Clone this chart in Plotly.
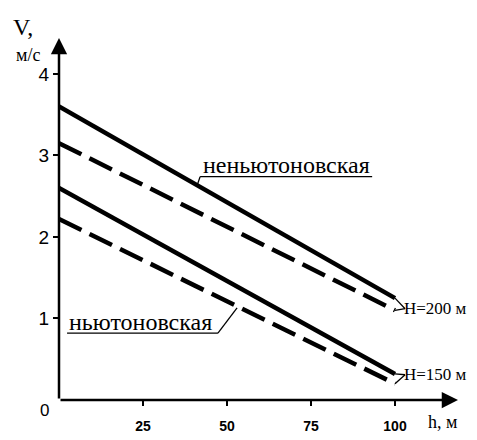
import plotly.graph_objects as go

# Data
h = [0, 100]
v_nonnewt_H200 = [3.6, 1.25]
v_newt_H200 = [3.15, 1.1]
v_nonnewt_H150 = [2.6, 0.32]
v_newt_H150 = [2.22, 0.2]
x_ticks = [25, 50, 75, 100]
y_ticks = [1, 2, 3, 4]

X_MAX = 118.75
Y_MAX = 4.44
LW = 4.5
SERIF = "Liberation Serif"
SANS = "Liberation Sans"
PAGE_OFFSET = 8  # default body margin of the html page

fig = go.Figure()
for v, dash in [(v_nonnewt_H200, "solid"), (v_newt_H200, "25px,9px"),
                (v_nonnewt_H150, "solid"), (v_newt_H150, "25px,9px")]:
    fig.add_trace(go.Scatter(x=h, y=v, mode="lines",
                             line=dict(color="black", width=LW, dash=dash),
                             showlegend=False, hoverinfo="skip"))

shapes = []
def seg(x0, y0, x1, y1, w=1.3):
    shapes.append(dict(type="line", xref="x", yref="y", x0=x0, y0=y0, x1=x1, y1=y1,
                       line=dict(color="black", width=w)))

# label underlines and leaders
seg(42.0, 2.74, 93.2, 2.74)
seg(42.0, 2.74, 41.1, 2.63)
seg(2.4, 0.82, 47.3, 0.82)
seg(47.3, 0.82, 53.0, 1.13)
# H labels leaders
seg(103.0, 1.12, h[1], v_nonnewt_H200[1])
seg(103.0, 1.12, h[1], v_newt_H200[1])
seg(103.0, 0.31, h[1], v_nonnewt_H150[1])
seg(103.0, 0.31, h[1], v_newt_H150[1])

annotations = [
    # axes with arrows
    dict(x=X_MAX, y=0, ax=0, ay=0, xref="x", yref="y", axref="x", ayref="y",
         showarrow=True, arrowhead=2, arrowsize=1.3, arrowwidth=2.5, arrowcolor="black", text=""),
    dict(x=0, y=Y_MAX, ax=0, ay=0, xref="x", yref="y", axref="x", ayref="y",
         showarrow=True, arrowhead=2, arrowsize=1.3, arrowwidth=2.5, arrowcolor="black", text=""),
    dict(x=0, y=0, xref="x", yref="y", text="0", showarrow=False, xanchor="right",
         yanchor="middle", xshift=-8, yshift=-10, font=dict(family=SANS, size=17, color="black")),
    dict(x=-0.09, y=1.03, xref="paper", yref="paper", text="V,",
         showarrow=False, xanchor="center", yanchor="middle",
         font=dict(family=SERIF, size=24, color="black")),
    dict(x=-0.078, y=0.953, xref="paper", yref="paper", text="м/с",
         showarrow=False, xanchor="center", yanchor="middle",
         font=dict(family=SERIF, size=18, color="black")),
    dict(x=0.962, y=-0.061, xref="paper", yref="paper", text="h, м",
         showarrow=False, xanchor="center", yanchor="middle",
         font=dict(family=SERIF, size=18, color="black")),
    dict(x=67.6, y=2.88, xref="x", yref="y", text="неньютоновская", showarrow=False,
         font=dict(family=SERIF, size=24, color="black")),
    dict(x=24.4, y=0.96, xref="x", yref="y", text="ньютоновская", showarrow=False,
         font=dict(family=SERIF, size=24, color="black")),
    dict(x=103.0, y=1.12, xref="x", yref="y", text="H=200 м", showarrow=False,
         xanchor="left", xshift=-3, font=dict(family=SERIF, size=17, color="black")),
    dict(x=103.0, y=0.31, xref="x", yref="y", text="H=150 м", showarrow=False,
         xanchor="left", xshift=-3, font=dict(family=SERIF, size=17, color="black")),
]

fig.update_layout(
    width=477 - PAGE_OFFSET, height=440 - PAGE_OFFSET,
    margin=dict(l=59 - PAGE_OFFSET, r=19, t=38 - PAGE_OFFSET, b=40, autoexpand=False),
    plot_bgcolor="white", paper_bgcolor="white",
    shapes=shapes, annotations=annotations,
    xaxis=dict(range=[0, X_MAX], tickvals=x_ticks, ticks="outside", ticklen=5,
               tickwidth=1.5, tickcolor="black", showgrid=False, zeroline=False,
               showline=False, automargin=False, ticklabelstandoff=8,
               tickfont=dict(family=SANS, size=14, color="black", weight="bold")),
    yaxis=dict(range=[0, Y_MAX], tickvals=y_ticks, ticks="outside", ticklen=5,
               tickwidth=1.5, tickcolor="black", showgrid=False, zeroline=False,
               showline=False, automargin=False,
               tickfont=dict(family=SANS, size=19, color="black")),
)

fig.write_html("out.html")
